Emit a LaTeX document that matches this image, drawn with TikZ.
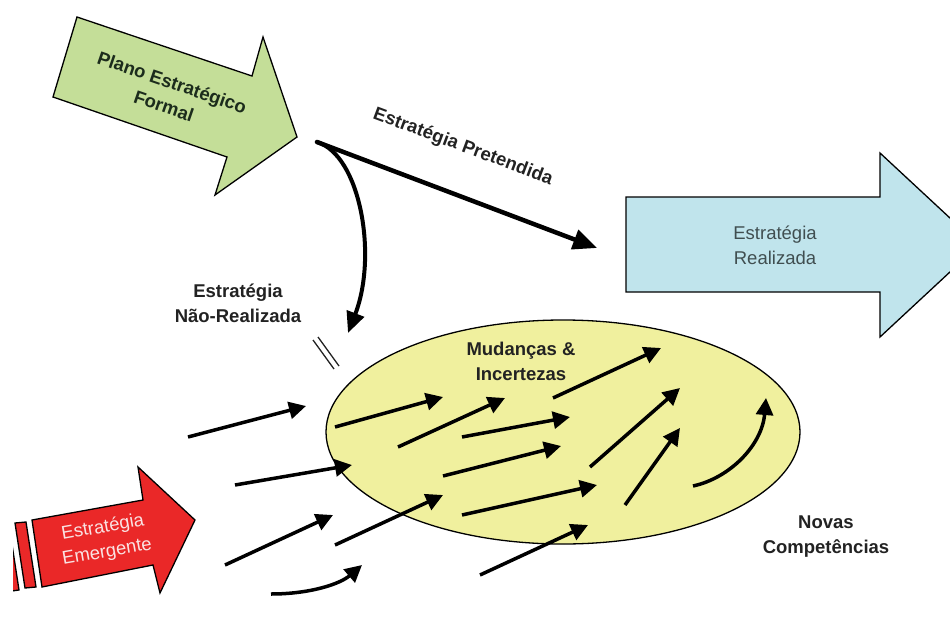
\documentclass[tikz,border=0pt]{standalone}
\usepackage{fontspec}
\setmainfont{Liberation Sans}
\usetikzlibrary{arrows.meta}
\definecolor{planogreen}{RGB}{196,222,152}
\definecolor{realblue}{RGB}{192,228,236}
\definecolor{emerred}{RGB}{234,40,40}
\definecolor{fieldyellow}{RGB}{240,240,158}
\definecolor{labelgray}{RGB}{34,34,34}
\definecolor{bluetext}{RGB}{64,78,80}
\definecolor{greentext}{RGB}{28,44,28}
\definecolor{redtext}{RGB}{250,226,226}
\begin{document}
\begin{tikzpicture}[x=1pt,y=-1pt,
  lbl/.style={font=\fontsize{18.5}{25}\selectfont\bfseries, text=labelgray, align=center, inner sep=0pt},
  flow/.style={line width=3.5pt, -{Triangle[length=17pt,width=17pt]}},
  bigflow/.style={line width=4.5pt, line cap=round, -{Triangle[length=24pt,width=20pt]}},
  outline/.style={draw=black, line width=1.3pt, line join=miter}]
\useasboundingbox (0,0) rectangle (950,626);
\clip (13,0) rectangle (950,626);

% formal plan arrow
\filldraw[outline, fill=planogreen]
  (77,17) -- (252,76) -- (263,37) -- (297,137) -- (215,195) -- (227,157) -- (53,97) -- cycle;
\node[lbl, text=greentext, rotate=-19] (plano) at (168,94) {Plano Estratégico\\Formal};

% realized strategy arrow
\filldraw[outline, fill=realblue]
  (626,197) -- (880,197) -- (880,153) -- (979,245) -- (880,337) -- (880,292) -- (626,292) -- cycle;
\node[lbl, font=\fontsize{18.5}{25}\selectfont, text=bluetext] (realizada) at (775,245) {Estratégia\\Realizada};

% emergent strategy arrow with stripes
\filldraw[outline, fill=emerred]
  (32,520) -- (143,500) -- (138,467) -- (195,520) -- (160,593) -- (153,565) -- (42,587) -- cycle;
\filldraw[outline, fill=emerred] (15,523) -- (26,522) -- (36,587) -- (25,588) -- cycle;
\filldraw[outline, fill=emerred] (3,526) -- (9,525) -- (19,590) -- (12,591) -- cycle;
\node[lbl, font=\fontsize{18.5}{25}\selectfont, text=redtext, rotate=10] (emergente) at (105,540) {Estratégia\\Emergente};

% field of changes
\filldraw[outline, fill=fieldyellow] (563,432) ellipse [x radius=237pt, y radius=112pt];

% intended and unrealized strategies
\coordinate (fork) at (317,142);
\coordinate (pretEnd) at (597,248);
\coordinate (naoEnd) at (348,333);
\draw[bigflow] (fork) -- (pretEnd);
\draw[line width=4pt, line cap=round, -{Triangle[length=21pt,width=18pt]}]
  (fork) .. controls (360,155) and (378,255) .. (naoEnd);
\node[lbl, rotate=-20.5] (pretendida) at (463,147) {Estratégia Pretendida};
\node[lbl] (naorealizada) at (238,303) {Estratégia\\Não-Realizada};
\draw[line width=1.3pt, labelgray] (313,340) -- (334,369);
\draw[line width=1.3pt, labelgray] (318,337) -- (339,366);

% emergent flows
\draw[flow] (188,437) -- (306,406);
\draw[flow] (335,427) -- (443,397);
\draw[flow] (235,485) -- (352,465);
\draw[flow] (398,447) -- (505,398);
\draw[flow] (462,437) -- (570,417);
\draw[flow] (443,476) -- (561,446);
\draw[flow] (225,565) -- (333,515);
\draw[flow] (335,545) -- (443,495);
\draw[flow] (462,515) -- (597,485);
\draw[flow] (271,594) .. controls (310,594) and (340,584) .. (362,565);
\draw[flow] (480,575) -- (588,525);
\draw[flow] (553,398) -- (661,348);
\draw[flow] (590,467) -- (680,388);
\draw[flow] (625,505) -- (680,428);
\draw[flow] (693,486) .. controls (730,478) and (762,445) .. (766,398);

\node[lbl] (mudancas) at (521,361) {Mudanças \&\\Incertezas};
\node[lbl] (novas) at (826,537) {Novas\\Competências};
\end{tikzpicture}
\end{document}
